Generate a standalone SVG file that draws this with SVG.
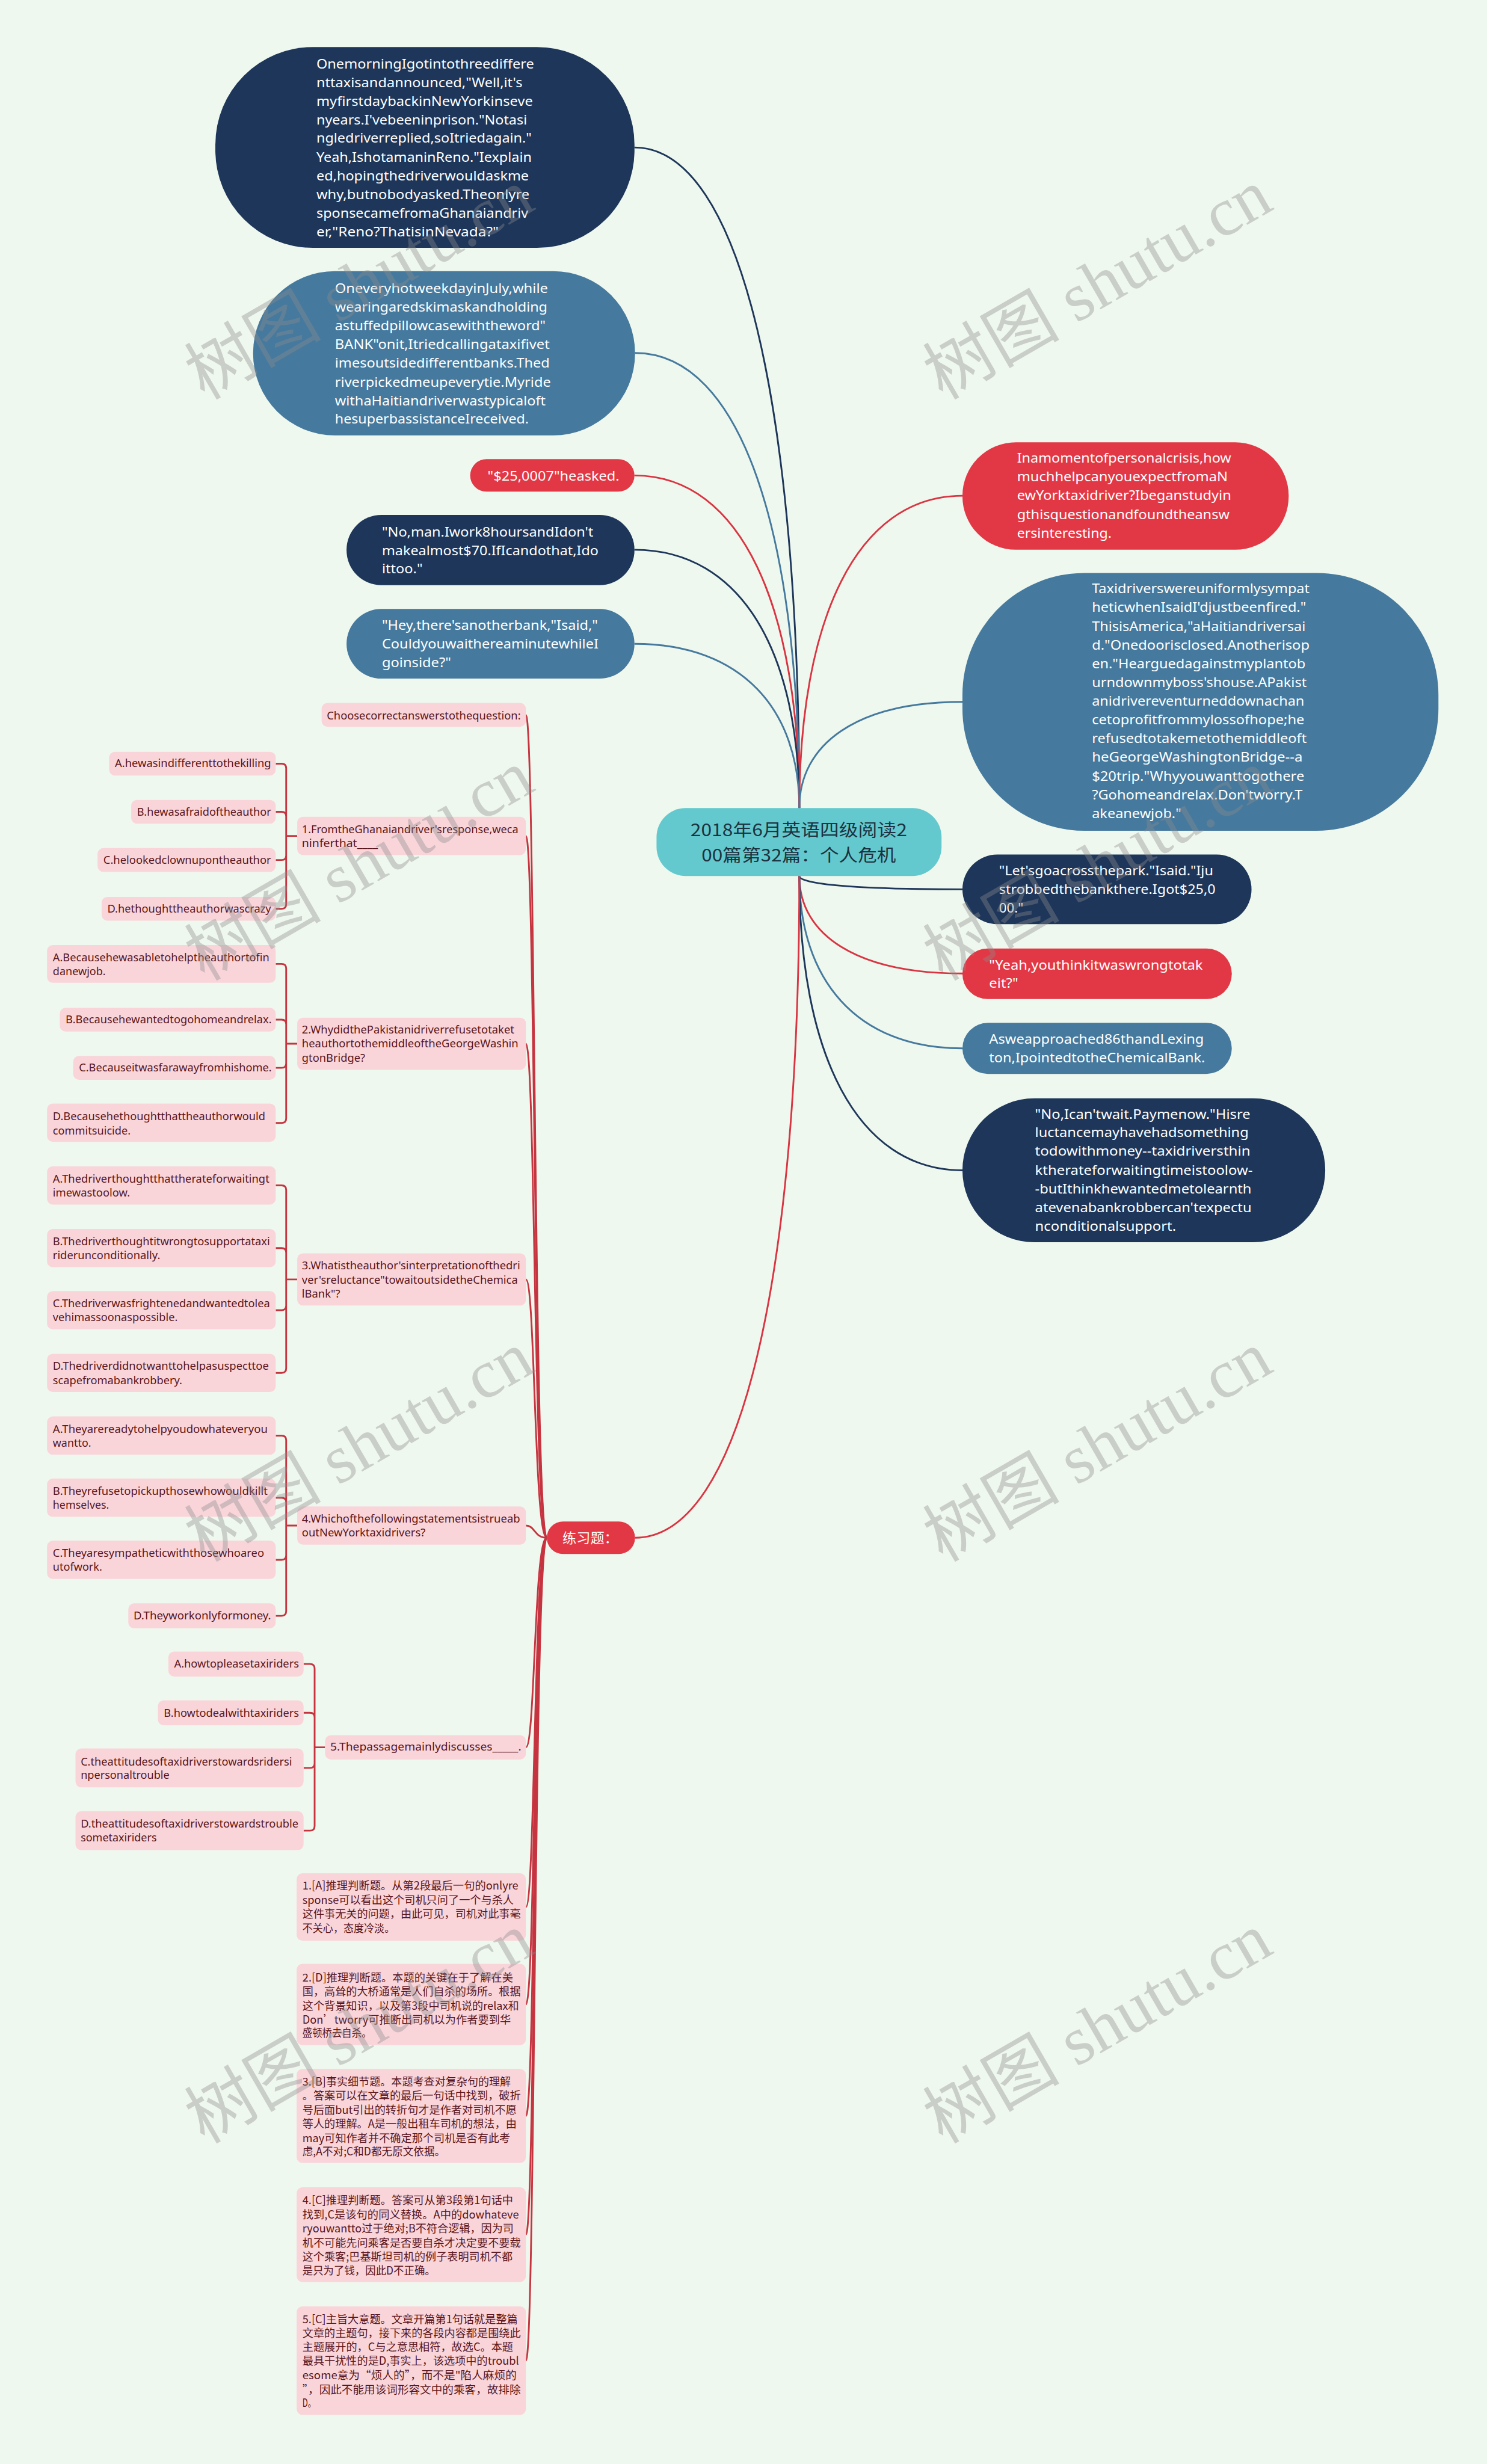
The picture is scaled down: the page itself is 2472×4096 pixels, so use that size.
<svg xmlns="http://www.w3.org/2000/svg" width="2472" height="4096" viewBox="0 0 2472 4096">
<defs>
<style>
text{font-family:"Noto Sans","Liberation Sans","Noto Sans CJK SC",sans-serif}
.navy{fill:#1d365a}
.steel{fill:#45799e}
.red{fill:#e23846}
.cyan{fill:#63c9ce}
.pink{fill:#f9d5da}
.tw{fill:#ffffff;font-size:23px}
.tp{fill:#5a1620;font-size:19.5px}
.tc{fill:#5a1620;font-size:19px;font-family:"Noto Sans CJK SC","Noto Sans",sans-serif}
.tt{fill:#1c3240;font-size:30px;font-family:"Noto Sans CJK SC","Noto Sans",sans-serif}
.tl{fill:#ffffff;font-size:24px;font-family:"Noto Sans CJK SC","Noto Sans",sans-serif}
.c{fill:none;stroke-width:3}
.cn{stroke:#1d365a}
.cs{stroke:#45799e}
.cr{stroke:#d93442}
.q{fill:none;stroke:#c63440;stroke-width:3}
.wm{fill:#8c8c8c;opacity:0.38;font-size:118px;font-family:"Liberation Serif","Noto Sans CJK SC",serif}
</style>
</defs>
<rect x="0" y="0" width="2472" height="4096" fill="#eff8ee"/>
<g transform="scale(0.965)">
<g id="connectors">
<path class="c cn" d="M1093,254 C1278,254 1377,709 1377,1392"/>
<path class="c cs" d="M1094,608 C1278,608 1377,922 1377,1392"/>
<path class="c cr" d="M1093,819 C1278,819 1377,1048 1377,1392"/>
<path class="c cn" d="M1093,947 C1278,947 1377,1125 1377,1392"/>
<path class="c cs" d="M1093,1109 C1278,1109 1377,1222 1377,1392"/>
<path class="c cr" d="M1658,854 C1475,854 1377,1069 1377,1392"/>
<path class="c cs" d="M1658,1209 C1475,1209 1377,1282 1377,1392"/>
<path class="c cn" d="M1658,1532 C1475,1532 1377,1523 1377,1509"/>
<path class="c cr" d="M1658,1677 C1475,1677 1377,1610 1377,1509"/>
<path class="c cs" d="M1658,1806 C1475,1806 1377,1687 1377,1509"/>
<path class="c cn" d="M1658,2016 C1475,2016 1377,1813 1377,1509"/>
<path class="c cr" d="M1094,2649 C1278,2649 1377,2193 1377,1509"/>
<path class="q" d="M906,1231.5 C922,1231.5 920,2649 942,2649"/>
<path class="q" d="M906,1440 C922,1440 920,2649 942,2649"/>
<path class="q" d="M906,1798 C922,1798 920,2649 942,2649"/>
<path class="q" d="M906,2204 C922,2204 920,2649 942,2649"/>
<path class="q" d="M906,2628 C922,2628 920,2649 942,2649"/>
<path class="q" d="M906,3010 C922,3010 920,2649 942,2649"/>
<path class="q" d="M906,3285 C922,3285 920,2649 942,2649"/>
<path class="q" d="M906,3453 C922,3453 920,2649 942,2649"/>
<path class="q" d="M906,3645 C922,3645 920,2649 942,2649"/>
<path class="q" d="M906,3849.5 C922,3849.5 920,2649 942,2649"/>
<path class="q" d="M906,4066.5 C922,4066.5 920,2649 942,2649"/>
<path class="q" d="M475,1315.5 H485 Q493,1315.5 493,1323.5 V1440 M475,1398.5 H485 Q493,1398.5 493,1406.5 V1440 M475,1481.5 H485 Q493,1481.5 493,1473.5 V1440 M475,1565.5 H485 Q493,1565.5 493,1557.5 V1440 M493,1440 H512"/>
<path class="q" d="M475,1660.5 H485 Q493,1660.5 493,1668.5 V1798 M475,1756.5 H485 Q493,1756.5 493,1764.5 V1798 M475,1839.5 H485 Q493,1839.5 493,1831.5 V1798 M475,1934.5 H485 Q493,1934.5 493,1926.5 V1798 M493,1798 H512"/>
<path class="q" d="M475,2042 H485 Q493,2042 493,2050 V2204 M475,2150 H485 Q493,2150 493,2158 V2204 M475,2257 H485 Q493,2257 493,2249 V2204 M475,2365 H485 Q493,2365 493,2357 V2204 M493,2204 H512"/>
<path class="q" d="M475,2473 H485 Q493,2473 493,2481 V2628 M475,2580 H485 Q493,2580 493,2588 V2628 M475,2687 H485 Q493,2687 493,2679 V2628 M475,2783.5 H485 Q493,2783.5 493,2775.5 V2628 M493,2628 H512"/>
<path class="q" d="M523,2866.5 H534 Q542,2866.5 542,2874.5 V3010 M523,2950.5 H534 Q542,2950.5 542,2958.5 V3010 M523,3045.5 H534 Q542,3045.5 542,3037.5 V3010 M523,3153.5 H534 Q542,3153.5 542,3145.5 V3010 M542,3010 H560"/>
</g>
<g id="center">
<rect class="cyan" x="1131" y="1392" width="491" height="117" rx="50"/>
<text class="tt" x="1376" y="1440" text-anchor="middle" textLength="373" lengthAdjust="spacingAndGlyphs">2018年6月英语四级阅读2</text>
<text class="tt" x="1376" y="1484" text-anchor="middle" textLength="335" lengthAdjust="spacingAndGlyphs">00篇第32篇：个人危机</text>
</g>
<g id="n1">
<rect class="navy" x="371" y="81" width="722" height="346" rx="168"/>
<text class="tw" x="545" y="118" textLength="375" lengthAdjust="spacingAndGlyphs">OnemorningIgotintothreediffere</text>
<text class="tw" x="545" y="150" textLength="355" lengthAdjust="spacingAndGlyphs">nttaxisandannounced,"Well,it's</text>
<text class="tw" x="545" y="182" textLength="373" lengthAdjust="spacingAndGlyphs">myfirstdaybackinNewYorkinseve</text>
<text class="tw" x="545" y="214" textLength="363" lengthAdjust="spacingAndGlyphs">nyears.I'vebeeninprison."Notasi</text>
<text class="tw" x="545" y="246" textLength="371" lengthAdjust="spacingAndGlyphs">ngledriverreplied,soItriedagain."</text>
<text class="tw" x="545" y="279" textLength="371" lengthAdjust="spacingAndGlyphs">Yeah,IshotamaninReno."Iexplain</text>
<text class="tw" x="545" y="311" textLength="366" lengthAdjust="spacingAndGlyphs">ed,hopingthedriverwouldaskme</text>
<text class="tw" x="545" y="343" textLength="367" lengthAdjust="spacingAndGlyphs">why,butnobodyasked.Theonlyre</text>
<text class="tw" x="545" y="375" textLength="365" lengthAdjust="spacingAndGlyphs">sponsecamefromaGhanaiandriv</text>
<text class="tw" x="545" y="407" textLength="314" lengthAdjust="spacingAndGlyphs">er,"Reno?ThatisinNevada?"</text>
</g>
<g id="n2">
<rect class="steel" x="436" y="467" width="658" height="283" rx="141"/>
<text class="tw" x="577" y="505" textLength="367" lengthAdjust="spacingAndGlyphs">OneveryhotweekdayinJuly,while</text>
<text class="tw" x="577" y="537" textLength="366" lengthAdjust="spacingAndGlyphs">wearingaredskimaskandholding</text>
<text class="tw" x="577" y="569" textLength="363" lengthAdjust="spacingAndGlyphs">astuffedpillowcasewiththeword"</text>
<text class="tw" x="577" y="601" textLength="370" lengthAdjust="spacingAndGlyphs">BANK"onit,Itriedcallingataxifivet</text>
<text class="tw" x="577" y="633" textLength="370" lengthAdjust="spacingAndGlyphs">imesoutsidedifferentbanks.Thed</text>
<text class="tw" x="577" y="666" textLength="372" lengthAdjust="spacingAndGlyphs">riverpickedmeupeverytie.Myride</text>
<text class="tw" x="577" y="698" textLength="363" lengthAdjust="spacingAndGlyphs">withaHaitiandriverwastypicaloft</text>
<text class="tw" x="577" y="730" textLength="334" lengthAdjust="spacingAndGlyphs">hesuperbassistanceIreceived.</text>
</g>
<g id="n3">
<rect class="red" x="810" y="791" width="283" height="56" rx="28"/>
<text class="tw" x="840" y="828" textLength="227" lengthAdjust="spacingAndGlyphs">"$25,0007"heasked.</text>
</g>
<g id="n4">
<rect class="navy" x="597" y="887" width="496" height="121" rx="60"/>
<text class="tw" x="658" y="924" textLength="364" lengthAdjust="spacingAndGlyphs">"No,man.Iwork8hoursandIdon't</text>
<text class="tw" x="658" y="956" textLength="373" lengthAdjust="spacingAndGlyphs">makealmost$70.IfIcandothat,Ido</text>
<text class="tw" x="658" y="988" textLength="70" lengthAdjust="spacingAndGlyphs">ittoo."</text>
</g>
<g id="n5">
<rect class="steel" x="597" y="1049" width="496" height="120" rx="60"/>
<text class="tw" x="658" y="1085" textLength="372" lengthAdjust="spacingAndGlyphs">"Hey,there'sanotherbank,"Isaid,"</text>
<text class="tw" x="658" y="1117" textLength="373" lengthAdjust="spacingAndGlyphs">CouldyouwaithereaminutewhileI</text>
<text class="tw" x="658" y="1149" textLength="119" lengthAdjust="spacingAndGlyphs">goinside?"</text>
</g>
<g id="r1">
<rect class="red" x="1658" y="762" width="562" height="185" rx="92"/>
<text class="tw" x="1752" y="797" textLength="369" lengthAdjust="spacingAndGlyphs">Inamomentofpersonalcrisis,how</text>
<text class="tw" x="1752" y="829" textLength="363" lengthAdjust="spacingAndGlyphs">muchhelpcanyouexpectfromaN</text>
<text class="tw" x="1752" y="861" textLength="369" lengthAdjust="spacingAndGlyphs">ewYorktaxidriver?Ibeganstudyin</text>
<text class="tw" x="1752" y="894" textLength="366" lengthAdjust="spacingAndGlyphs">gthisquestionandfoundtheansw</text>
<text class="tw" x="1752" y="926" textLength="163" lengthAdjust="spacingAndGlyphs">ersinteresting.</text>
</g>
<g id="r2">
<rect class="steel" x="1658" y="987" width="820" height="444" rx="210"/>
<text class="tw" x="1881" y="1022" textLength="375" lengthAdjust="spacingAndGlyphs">Taxidriverswereuniformlysympat</text>
<text class="tw" x="1881" y="1054" textLength="369" lengthAdjust="spacingAndGlyphs">heticwhenIsaidI'djustbeenfired."</text>
<text class="tw" x="1881" y="1087" textLength="368" lengthAdjust="spacingAndGlyphs">ThisisAmerica,"aHaitiandriversai</text>
<text class="tw" x="1881" y="1119" textLength="375" lengthAdjust="spacingAndGlyphs">d."Onedoorisclosed.Anotherisop</text>
<text class="tw" x="1881" y="1151" textLength="368" lengthAdjust="spacingAndGlyphs">en."Hearguedagainstmyplantob</text>
<text class="tw" x="1881" y="1183" textLength="370" lengthAdjust="spacingAndGlyphs">urndownmyboss'shouse.APakist</text>
<text class="tw" x="1881" y="1216" textLength="366" lengthAdjust="spacingAndGlyphs">anidrivereventurneddownachan</text>
<text class="tw" x="1881" y="1248" textLength="366" lengthAdjust="spacingAndGlyphs">cetoprofitfrommylossofhope;he</text>
<text class="tw" x="1881" y="1280" textLength="370" lengthAdjust="spacingAndGlyphs">refusedtotakemetothemiddleoft</text>
<text class="tw" x="1881" y="1312" textLength="363" lengthAdjust="spacingAndGlyphs">heGeorgeWashingtonBridge--a</text>
<text class="tw" x="1881" y="1345" textLength="366" lengthAdjust="spacingAndGlyphs">$20trip."Whyyouwanttogothere</text>
<text class="tw" x="1881" y="1377" textLength="363" lengthAdjust="spacingAndGlyphs">?Gohomeandrelax.Don'tworry.T</text>
<text class="tw" x="1881" y="1409" textLength="154" lengthAdjust="spacingAndGlyphs">akeanewjob."</text>
</g>
<g id="r3">
<rect class="navy" x="1658" y="1472" width="498" height="120" rx="60"/>
<text class="tw" x="1721" y="1508" textLength="369" lengthAdjust="spacingAndGlyphs">"Let'sgoacrossthepark."Isaid."Iju</text>
<text class="tw" x="1721" y="1540" textLength="373" lengthAdjust="spacingAndGlyphs">strobbedthebankthere.Igot$25,0</text>
<text class="tw" x="1721" y="1572" textLength="42" lengthAdjust="spacingAndGlyphs">00."</text>
</g>
<g id="r4">
<rect class="red" x="1658" y="1634" width="464" height="87" rx="43"/>
<text class="tw" x="1704" y="1670" textLength="368" lengthAdjust="spacingAndGlyphs">"Yeah,youthinkitwaswrongtotak</text>
<text class="tw" x="1704" y="1702" textLength="50" lengthAdjust="spacingAndGlyphs">eit?"</text>
</g>
<g id="r5">
<rect class="steel" x="1658" y="1762" width="464" height="88" rx="44"/>
<text class="tw" x="1704" y="1798" textLength="370" lengthAdjust="spacingAndGlyphs">Asweapproached86thandLexing</text>
<text class="tw" x="1704" y="1830" textLength="372" lengthAdjust="spacingAndGlyphs">ton,IpointedtotheChemicalBank.</text>
</g>
<g id="r6">
<rect class="navy" x="1658" y="1892" width="625" height="248" rx="124"/>
<text class="tw" x="1783" y="1927" textLength="371" lengthAdjust="spacingAndGlyphs">"No,Ican'twait.Paymenow."Hisre</text>
<text class="tw" x="1783" y="1959" textLength="368" lengthAdjust="spacingAndGlyphs">luctancemayhavehadsomething</text>
<text class="tw" x="1783" y="1991" textLength="371" lengthAdjust="spacingAndGlyphs">todowithmoney--taxidriversthin</text>
<text class="tw" x="1783" y="2024" textLength="375" lengthAdjust="spacingAndGlyphs">ktherateforwaitingtimeistoolow-</text>
<text class="tw" x="1783" y="2056" textLength="373" lengthAdjust="spacingAndGlyphs">-butIthinkhewantedmetolearnth</text>
<text class="tw" x="1783" y="2088" textLength="373" lengthAdjust="spacingAndGlyphs">atevenabankrobbercan'texpectu</text>
<text class="tw" x="1783" y="2120" textLength="243" lengthAdjust="spacingAndGlyphs">nconditionalsupport.</text>
</g>
<g id="practice">
<rect class="red" x="942" y="2621" width="152" height="56" rx="28"/>
<text class="tl" x="969" y="2658">练习题：</text>
</g>
<g id="choose">
<rect class="pink" x="554" y="1211" width="352" height="41" rx="10"/>
<text class="tp" x="563" y="1239" textLength="334" lengthAdjust="spacingAndGlyphs">Choosecorrectanswerstothequestion:</text>
</g>
<g id="q1">
<rect class="pink" x="512" y="1407" width="394" height="66" rx="10"/>
<text class="tp" x="520" y="1435" textLength="373" lengthAdjust="spacingAndGlyphs">1.FromtheGhanaiandriver'sresponse,weca</text>
<text class="tp" x="520" y="1459" textLength="131" lengthAdjust="spacingAndGlyphs">ninferthat____</text>
</g>
<g id="q1a">
<rect class="pink" x="188" y="1295" width="287" height="41" rx="10"/>
<text class="tp" x="198" y="1321" textLength="269" lengthAdjust="spacingAndGlyphs">A.hewasindifferenttothekilling</text>
</g>
<g id="q1b">
<rect class="pink" x="226" y="1378" width="249" height="41" rx="10"/>
<text class="tp" x="236" y="1405" textLength="231" lengthAdjust="spacingAndGlyphs">B.hewasafraidoftheauthor</text>
</g>
<g id="q1c">
<rect class="pink" x="168" y="1461" width="307" height="41" rx="10"/>
<text class="tp" x="178" y="1488" textLength="289" lengthAdjust="spacingAndGlyphs">C.helookedclownupontheauthor</text>
</g>
<g id="q1d">
<rect class="pink" x="175" y="1545" width="300" height="41" rx="10"/>
<text class="tp" x="185" y="1572" textLength="282" lengthAdjust="spacingAndGlyphs">D.hethoughttheauthorwascrazy</text>
</g>
<g id="q2">
<rect class="pink" x="512" y="1753" width="394" height="90" rx="10"/>
<text class="tp" x="520" y="1780" textLength="366" lengthAdjust="spacingAndGlyphs">2.WhydidthePakistanidriverrefusetotaket</text>
<text class="tp" x="520" y="1804" textLength="373" lengthAdjust="spacingAndGlyphs">heauthortothemiddleoftheGeorgeWashin</text>
<text class="tp" x="520" y="1829" textLength="109" lengthAdjust="spacingAndGlyphs">gtonBridge?</text>
</g>
<g id="q2a">
<rect class="pink" x="81" y="1628" width="394" height="65" rx="10"/>
<text class="tp" x="91" y="1656" textLength="373" lengthAdjust="spacingAndGlyphs">A.Becausehewasabletohelptheauthortofin</text>
<text class="tp" x="91" y="1680" textLength="91" lengthAdjust="spacingAndGlyphs">danewjob.</text>
</g>
<g id="q2b">
<rect class="pink" x="103" y="1736" width="372" height="41" rx="10"/>
<text class="tp" x="113" y="1763" textLength="355" lengthAdjust="spacingAndGlyphs">B.Becausehewantedtogohomeandrelax.</text>
</g>
<g id="q2c">
<rect class="pink" x="126" y="1819" width="349" height="41" rx="10"/>
<text class="tp" x="136" y="1846" textLength="332" lengthAdjust="spacingAndGlyphs">C.Becauseitwasfarawayfromhishome.</text>
</g>
<g id="q2d">
<rect class="pink" x="81" y="1901" width="394" height="66" rx="10"/>
<text class="tp" x="91" y="1930" textLength="366" lengthAdjust="spacingAndGlyphs">D.Becausehethoughtthattheauthorwould</text>
<text class="tp" x="91" y="1954" textLength="134" lengthAdjust="spacingAndGlyphs">commitsuicide.</text>
</g>
<g id="q3">
<rect class="pink" x="512" y="2159" width="394" height="90" rx="10"/>
<text class="tp" x="520" y="2187" textLength="376" lengthAdjust="spacingAndGlyphs">3.Whatistheauthor'sinterpretationofthedri</text>
<text class="tp" x="520" y="2211" textLength="372" lengthAdjust="spacingAndGlyphs">ver'sreluctance"towaitoutsidetheChemica</text>
<text class="tp" x="520" y="2235" textLength="66" lengthAdjust="spacingAndGlyphs">lBank"?</text>
</g>
<g id="q3a">
<rect class="pink" x="81" y="2009" width="394" height="66" rx="10"/>
<text class="tp" x="91" y="2037" textLength="373" lengthAdjust="spacingAndGlyphs">A.Thedriverthoughtthattherateforwaitingt</text>
<text class="tp" x="91" y="2061" textLength="133" lengthAdjust="spacingAndGlyphs">imewastoolow.</text>
</g>
<g id="q3b">
<rect class="pink" x="81" y="2117" width="394" height="66" rx="10"/>
<text class="tp" x="91" y="2145" textLength="374" lengthAdjust="spacingAndGlyphs">B.Thedriverthoughtitwrongtosupportataxi</text>
<text class="tp" x="91" y="2169" textLength="185" lengthAdjust="spacingAndGlyphs">riderunconditionally.</text>
</g>
<g id="q3c">
<rect class="pink" x="81" y="2224" width="394" height="66" rx="10"/>
<text class="tp" x="91" y="2252" textLength="374" lengthAdjust="spacingAndGlyphs">C.Thedriverwasfrightenedandwantedtolea</text>
<text class="tp" x="91" y="2276" textLength="215" lengthAdjust="spacingAndGlyphs">vehimassoonaspossible.</text>
</g>
<g id="q3d">
<rect class="pink" x="81" y="2332" width="394" height="66" rx="10"/>
<text class="tp" x="91" y="2360" textLength="372" lengthAdjust="spacingAndGlyphs">D.Thedriverdidnotwanttohelpasuspecttoe</text>
<text class="tp" x="91" y="2384" textLength="223" lengthAdjust="spacingAndGlyphs">scapefromabankrobbery.</text>
</g>
<g id="q4">
<rect class="pink" x="512" y="2595" width="394" height="66" rx="10"/>
<text class="tp" x="520" y="2623" textLength="376" lengthAdjust="spacingAndGlyphs">4.Whichofthefollowingstatementsistrueab</text>
<text class="tp" x="520" y="2647" textLength="213" lengthAdjust="spacingAndGlyphs">outNewYorktaxidrivers?</text>
</g>
<g id="q4a">
<rect class="pink" x="81" y="2440" width="394" height="66" rx="10"/>
<text class="tp" x="91" y="2468" textLength="370" lengthAdjust="spacingAndGlyphs">A.Theyarereadytohelpyoudowhateveryou</text>
<text class="tp" x="91" y="2492" textLength="66" lengthAdjust="spacingAndGlyphs">wantto.</text>
</g>
<g id="q4b">
<rect class="pink" x="81" y="2547" width="394" height="66" rx="10"/>
<text class="tp" x="91" y="2575" textLength="370" lengthAdjust="spacingAndGlyphs">B.Theyrefusetopickupthosewhowouldkillt</text>
<text class="tp" x="91" y="2599" textLength="97" lengthAdjust="spacingAndGlyphs">hemselves.</text>
</g>
<g id="q4c">
<rect class="pink" x="81" y="2654" width="394" height="66" rx="10"/>
<text class="tp" x="91" y="2682" textLength="364" lengthAdjust="spacingAndGlyphs">C.Theyaresympatheticwiththosewhoareo</text>
<text class="tp" x="91" y="2706" textLength="85" lengthAdjust="spacingAndGlyphs">utofwork.</text>
</g>
<g id="q4d">
<rect class="pink" x="221" y="2762" width="254" height="43" rx="10"/>
<text class="tp" x="230" y="2790" textLength="237" lengthAdjust="spacingAndGlyphs">D.Theyworkonlyformoney.</text>
</g>
<g id="q5">
<rect class="pink" x="560" y="2989" width="346" height="42" rx="10"/>
<text class="tp" x="569" y="3016" textLength="329" lengthAdjust="spacingAndGlyphs">5.Thepassagemainlydiscusses_____.</text>
</g>
<g id="q5a">
<rect class="pink" x="290" y="2845" width="233" height="43" rx="10"/>
<text class="tp" x="300" y="2873" textLength="215" lengthAdjust="spacingAndGlyphs">A.howtopleasetaxiriders</text>
</g>
<g id="q5b">
<rect class="pink" x="272" y="2929" width="251" height="43" rx="10"/>
<text class="tp" x="282" y="2957" textLength="233" lengthAdjust="spacingAndGlyphs">B.howtodealwithtaxiriders</text>
</g>
<g id="q5c">
<rect class="pink" x="130" y="3012" width="393" height="67" rx="10"/>
<text class="tp" x="139" y="3041" textLength="364" lengthAdjust="spacingAndGlyphs">C.theattitudesoftaxidriverstowardsridersi</text>
<text class="tp" x="139" y="3064" textLength="153" lengthAdjust="spacingAndGlyphs">npersonaltrouble</text>
</g>
<g id="q5d">
<rect class="pink" x="130" y="3120" width="393" height="67" rx="10"/>
<text class="tp" x="139" y="3148" textLength="375" lengthAdjust="spacingAndGlyphs">D.theattitudesoftaxidriverstowardstrouble</text>
<text class="tp" x="139" y="3172" textLength="131" lengthAdjust="spacingAndGlyphs">sometaxiriders</text>
</g>
<g id="e1">
<rect class="pink" x="511" y="3227" width="395" height="116" rx="10"/>
<text class="tc" x="521" y="3255" textLength="372" lengthAdjust="spacingAndGlyphs">1.[A]推理判断题。从第2段最后一句的onlyre</text>
<text class="tc" x="521" y="3280" textLength="364" lengthAdjust="spacingAndGlyphs">sponse可以看出这个司机只问了一个与杀人</text>
<text class="tc" x="521" y="3304" textLength="376" lengthAdjust="spacingAndGlyphs">这件事无关的问题，由此可见，司机对此事毫</text>
<text class="tc" x="521" y="3328" textLength="159" lengthAdjust="spacingAndGlyphs">不关心，态度冷淡。</text>
</g>
<g id="e2">
<rect class="pink" x="511" y="3383" width="395" height="140" rx="10"/>
<text class="tc" x="521" y="3413" textLength="363" lengthAdjust="spacingAndGlyphs">2.[D]推理判断题。本题的关键在于了解在美</text>
<text class="tc" x="521" y="3437" textLength="376" lengthAdjust="spacingAndGlyphs">国，高耸的大桥通常是人们自杀的场所。根据</text>
<text class="tc" x="521" y="3462" textLength="373" lengthAdjust="spacingAndGlyphs">这个背景知识，以及第3段中司机说的relax和</text>
<text class="tc" x="521" y="3486" textLength="359" lengthAdjust="spacingAndGlyphs">Don’tworry可推断出司机以为作者要到华</text>
<text class="tc" x="521" y="3509" textLength="119" lengthAdjust="spacingAndGlyphs">盛顿桥去自杀。</text>
</g>
<g id="e3">
<rect class="pink" x="511" y="3564" width="395" height="162" rx="10"/>
<text class="tc" x="521" y="3593" textLength="359" lengthAdjust="spacingAndGlyphs">3.[B]事实细节题。本题考查对复杂句的理解</text>
<text class="tc" x="521" y="3617" textLength="376" lengthAdjust="spacingAndGlyphs">。答案可以在文章的最后一句话中找到，破折</text>
<text class="tc" x="521" y="3641" textLength="369" lengthAdjust="spacingAndGlyphs">号后面but引出的转折句才是作者对司机不愿</text>
<text class="tc" x="521" y="3665" textLength="369" lengthAdjust="spacingAndGlyphs">等人的理解。A是一般出租车司机的想法，由</text>
<text class="tc" x="521" y="3690" textLength="358" lengthAdjust="spacingAndGlyphs">may可知作者并不确定那个司机是否有此考</text>
<text class="tc" x="521" y="3713" textLength="246" lengthAdjust="spacingAndGlyphs">虑,A不对;C和D都无原文依据。</text>
</g>
<g id="e4">
<rect class="pink" x="511" y="3768" width="395" height="163" rx="10"/>
<text class="tc" x="521" y="3797" textLength="363" lengthAdjust="spacingAndGlyphs">4.[C]推理判断题。答案可从第3段第1句话中</text>
<text class="tc" x="521" y="3822" textLength="373" lengthAdjust="spacingAndGlyphs">找到,C是该句的同义替换。A中的dowhateve</text>
<text class="tc" x="521" y="3846" textLength="364" lengthAdjust="spacingAndGlyphs">ryouwantto过于绝对;B不符合逻辑，因为司</text>
<text class="tc" x="521" y="3870" textLength="376" lengthAdjust="spacingAndGlyphs">机不可能先问乘客是否要自杀才决定要不要载</text>
<text class="tc" x="521" y="3894" textLength="362" lengthAdjust="spacingAndGlyphs">这个乘客;巴基斯坦司机的例子表明司机不都</text>
<text class="tc" x="521" y="3918" textLength="229" lengthAdjust="spacingAndGlyphs">是只为了钱，因此D不正确。</text>
</g>
<g id="e5">
<rect class="pink" x="511" y="3973" width="395" height="187" rx="10"/>
<text class="tc" x="521" y="4002" textLength="371" lengthAdjust="spacingAndGlyphs">5.[C]主旨大意题。文章开篇第1句话就是整篇</text>
<text class="tc" x="521" y="4026" textLength="376" lengthAdjust="spacingAndGlyphs">文章的主题句，接下来的各段内容都是围绕此</text>
<text class="tc" x="521" y="4050" textLength="363" lengthAdjust="spacingAndGlyphs">主题展开的，C与之意思相符，故选C。本题</text>
<text class="tc" x="521" y="4074" textLength="373" lengthAdjust="spacingAndGlyphs">最具干扰性的是D,事实上，该选项中的troubl</text>
<text class="tc" x="521" y="4098" textLength="369" lengthAdjust="spacingAndGlyphs">esome意为“烦人的”，而不是"陷人麻烦的</text>
<text class="tc" x="521" y="4123" textLength="376" lengthAdjust="spacingAndGlyphs">”，因此不能用该词形容文中的乘客，故排除</text>
<text class="tc" x="521" y="4146" textLength="23" lengthAdjust="spacingAndGlyphs">D。</text>
</g>
<g id="watermarks">
<text class="wm" transform="translate(352,690) rotate(-30)">树图 shutu.cn</text>
<text class="wm" transform="translate(1624,690) rotate(-30)">树图 shutu.cn</text>
<text class="wm" transform="translate(352,1691) rotate(-30)">树图 shutu.cn</text>
<text class="wm" transform="translate(1624,1691) rotate(-30)">树图 shutu.cn</text>
<text class="wm" transform="translate(352,2692) rotate(-30)">树图 shutu.cn</text>
<text class="wm" transform="translate(1624,2692) rotate(-30)">树图 shutu.cn</text>
<text class="wm" transform="translate(352,3694) rotate(-30)">树图 shutu.cn</text>
<text class="wm" transform="translate(1624,3694) rotate(-30)">树图 shutu.cn</text>
</g>
</g>
</svg>
